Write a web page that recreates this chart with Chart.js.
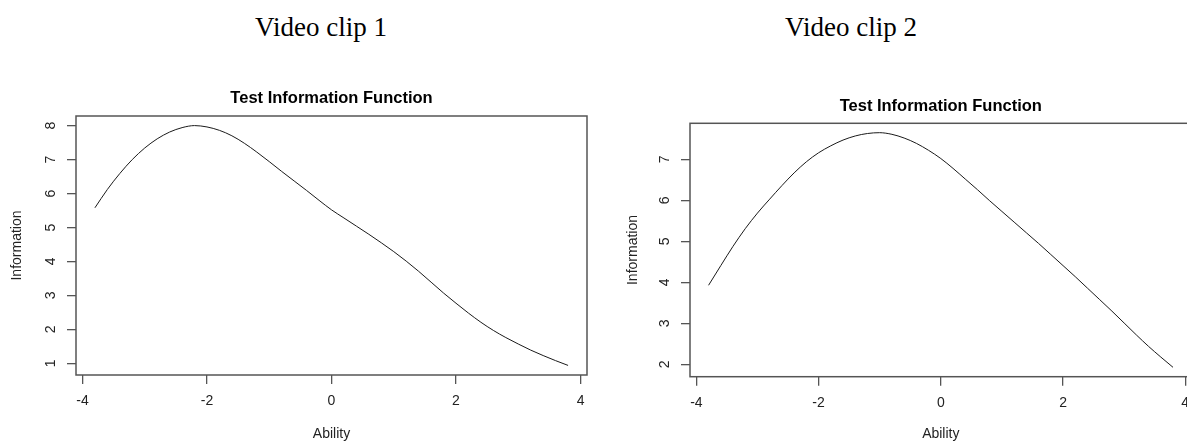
<!DOCTYPE html>
<html>
<head>
<meta charset="utf-8">
<script src="https://cdn.jsdelivr.net/npm/chart.js@4.4.1/dist/chart.umd.min.js"></script>
<style>
  html, body { margin: 0; padding: 0; background: #fff; overflow: hidden; }
  body { width: 1187px; height: 443px; position: relative; }
  .caption { position: absolute; top: 12px; font-family: "Liberation Serif", "Times New Roman", serif; font-size: 27px; color: #000; transform: translateX(-50%); white-space: nowrap; }
  canvas { position: absolute; }
</style>
</head>
<body>
<div class="caption" style="left:321px">Video clip 1</div>
<div class="caption" style="left:851px">Video clip 2</div>
<canvas id="tif1" width="600" height="383" style="left:0;top:60px"></canvas>
<canvas id="tif2" width="600" height="383" style="left:600px;top:60px"></canvas>
<script>
// ability grid, shared by both clips
const ability = [-3.8, -3.6, -3.4, -3.2, -3.0, -2.8, -2.6, -2.4, -2.2, -2.0,
  -1.8, -1.6, -1.4, -1.2, -1.0, -0.8, -0.6, -0.4, -0.2, 0.0,
  0.2, 0.4, 0.6, 0.8, 1.0, 1.2, 1.4, 1.6, 1.8, 2.0,
  2.2, 2.4, 2.6, 2.8, 3.0, 3.2, 3.4, 3.6, 3.8];

// test information, clip 1
const info1 = [5.58, 6.12, 6.59, 7.00, 7.34, 7.61, 7.81, 7.94, 8.00, 7.96,
  7.86, 7.70, 7.48, 7.22, 6.94, 6.65, 6.37, 6.09, 5.80, 5.52,
  5.28, 5.04, 4.80, 4.55, 4.29, 4.01, 3.71, 3.39, 3.07, 2.77,
  2.48, 2.21, 1.97, 1.76, 1.57, 1.39, 1.23, 1.08, 0.94];

// test information, clip 2
const info2 = [3.93, 4.41, 4.88, 5.31, 5.69, 6.03, 6.36, 6.67, 6.94, 7.16,
  7.33, 7.47, 7.57, 7.63, 7.65, 7.61, 7.52, 7.39, 7.22, 7.02,
  6.78, 6.52, 6.26, 5.99, 5.73, 5.47, 5.21, 4.95, 4.68, 4.41,
  4.14, 3.86, 3.58, 3.30, 3.01, 2.72, 2.44, 2.18, 1.93];

const xTicks = [-4, -2, 0, 2, 4];
const yTicks1 = [1, 2, 3, 4, 5, 6, 7, 8];
const yTicks2 = [2, 3, 4, 5, 6, 7];

const mainTitle = 'Test Information Function';
const xTitle = 'Ability';
const yTitle = 'Information';

const FONT = '"Liberation Sans", Arial, sans-serif';
const INK = '#222';
const AXIS = '#555';

// R-like range: data extent padded by 4% on each side
function padRange(vals) {
  const lo = Math.min(...vals), hi = Math.max(...vals);
  const d = (hi - lo) * 0.04;
  return [lo - d, hi + d];
}

// box around the plot area plus the bold main title over its centre
const framePlugin = {
  id: 'frame',
  afterDraw(chart, args, opts) {
    const { ctx, chartArea: a } = chart;
    ctx.save();
    ctx.strokeStyle = AXIS;
    ctx.lineWidth = 1.5;
    ctx.strokeRect(a.left, a.top, a.right - a.left, a.bottom - a.top);
    ctx.fillStyle = '#000';
    ctx.font = 'bold 16.5px ' + FONT;
    ctx.textAlign = 'center';
    ctx.textBaseline = 'middle';
    ctx.fillText(mainTitle, (a.left + a.right) / 2, a.top - opts.gap);
    ctx.restore();
  }
};

function makeChart(id, info, yTicks, lay) {
  const xr = padRange(ability);
  const yr = padRange(info);
  return new Chart(document.getElementById(id), {
    type: 'line',
    data: {
      datasets: [{
        data: ability.map((x, i) => ({ x, y: info[i] })),
        borderColor: '#1a1a1a',
        borderWidth: 1,
        pointRadius: 0,
        cubicInterpolationMode: 'monotone',
        fill: false
      }]
    },
    options: {
      responsive: false,
      animation: false,
      layout: { padding: { top: lay.top, right: lay.right, left: 0, bottom: 0 } },
      plugins: {
        legend: { display: false },
        tooltip: { enabled: false },
        frame: { gap: lay.gap }
      },
      scales: {
        x: {
          type: 'linear',
          min: xr[0], max: xr[1],
          afterBuildTicks: s => { s.ticks = xTicks.map(v => ({ value: v })); },
          afterFit: s => { s.height = lay.xh; },
          border: { display: false },
          grid: { drawOnChartArea: false, tickLength: 9, color: AXIS, lineWidth: 1.3 },
          ticks: { color: INK, font: { family: FONT, size: 14 }, padding: 9, maxRotation: 0 },
          title: { display: true, text: xTitle, color: INK, font: { family: FONT, size: 14 }, padding: { top: 0, bottom: 0 } }
        },
        y: {
          type: 'linear',
          min: yr[0], max: yr[1],
          afterBuildTicks: s => { s.ticks = yTicks.map(v => ({ value: v })); },
          afterFit: s => { s.width = lay.yw; },
          border: { display: false },
          grid: { drawOnChartArea: false, tickLength: 9, color: AXIS, lineWidth: 1.3 },
          ticks: { color: INK, font: { family: FONT, size: 14 }, padding: 12, minRotation: 90, maxRotation: 90, crossAlign: 'center' },
          title: { display: true, text: yTitle, color: INK, font: { family: FONT, size: 14 }, padding: { top: lay.yt, bottom: 0 } }
        }
      }
    },
    plugins: [framePlugin]
  });
}

makeChart('tif1', info1, yTicks1, { top: 56, right: 13, xh: 68, yw: 76, yt: 9, gap: 18 });
makeChart('tif2', info2, yTicks2, { top: 63.3, right: 8.4, xh: 66.3, yw: 90, yt: 25, gap: 17 });
</script>
</body>
</html>
